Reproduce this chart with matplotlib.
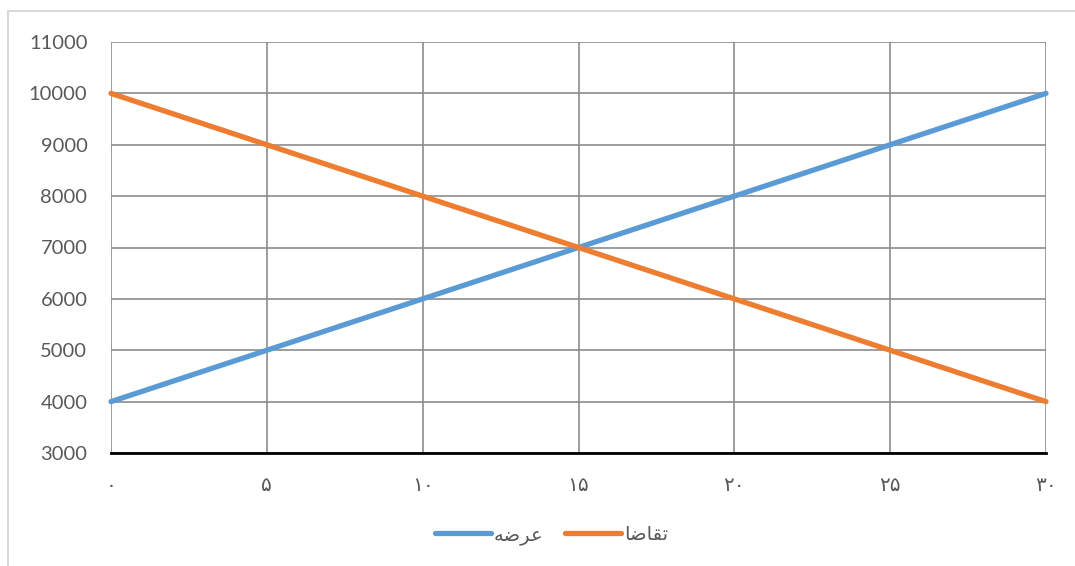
import matplotlib
matplotlib.use('Agg')
import matplotlib.pyplot as plt
from matplotlib.patches import Rectangle

# داده‌ها
qty = [0, 5, 10, 15, 20, 25, 30]
x_labels = ['۰', '۵', '۱۰', '۱۵', '۲۰', '۲۵', '۳۰']
supply = [4000, 5000, 6000, 7000, 8000, 9000, 10000]
demand = [10000, 9000, 8000, 7000, 6000, 5000, 4000]
y_ticks = [3000, 4000, 5000, 6000, 7000, 8000, 9000, 10000, 11000]

# matplotlib does no Arabic shaping, so the labels use presentation forms in visual order
label_supply = '\uFEEA\uFEBF\uFEAE\uFECB'          # عرضه
label_demand = '\uFE8E\uFEBF\uFE8E\uFED8\uFE97'    # تقاضا

plt.rcParams['font.family'] = ['Lato', 'DejaVu Sans']

fig = plt.figure(figsize=(10.75, 5.66), dpi=100)
fig.patches.append(Rectangle((8 / 1075, -0.1), 1.2, 1.1 - 11 / 566,
                             transform=fig.transFigure, fill=False,
                             edgecolor='#d9d9d9', linewidth=1.5))
ax = fig.add_axes([111 / 1075, 1 - 453 / 566, 935 / 1075, 411 / 566])

ax.plot(qty, supply, color='#5B9BD5', linewidth=3.8, solid_capstyle='round',
        label=label_supply, clip_on=False, zorder=3)
ax.plot(qty, demand, color='#ED7D31', linewidth=3.8, solid_capstyle='round',
        label=label_demand, clip_on=False, zorder=3)

ax.set_xlim(0, 30)
ax.set_ylim(3000, 11000)
ax.set_yticks(y_ticks)
ax.set_xticks(qty)
ax.set_xticklabels(x_labels)

ax.grid(True, color='#8c8c8c', linewidth=1.2)
ax.set_axisbelow(True)
for s in ['left', 'right', 'top']:
    ax.spines[s].set_visible(False)
ax.spines['bottom'].set_color('black')
ax.spines['bottom'].set_linewidth(2)
ax.spines['bottom'].set_zorder(2.5)

ax.tick_params(axis='both', length=0, labelsize=14.5, labelcolor='#595959')
ax.tick_params(axis='y', pad=17)
ax.tick_params(axis='x', pad=17)

ax.legend(loc='center', bbox_to_anchor=(0.471, -0.2), ncol=2, frameon=False,
          fontsize=14, handlelength=2.9, handletextpad=0.15, columnspacing=1.1,
          labelcolor='#595959')

plt.savefig('out.png', dpi=100)
